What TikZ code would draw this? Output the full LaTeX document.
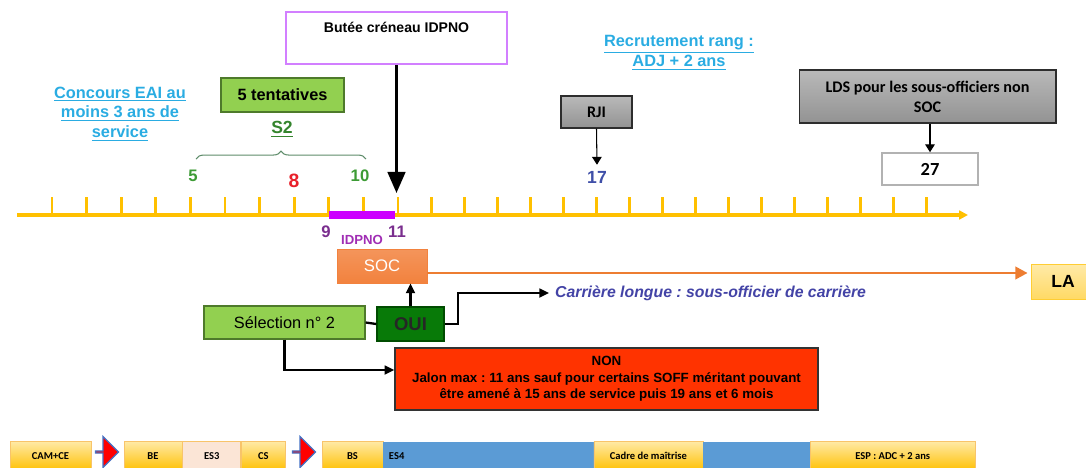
\documentclass[tikz,border=0pt]{standalone}
\usepackage{fontspec}
\setmainfont{Liberation Sans}
\newfontfamily\calibfont{Carlito}
\usetikzlibrary{arrows.meta, positioning, calc, shapes.arrows, decorations.pathreplacing}
\frenchspacing
\definecolor{tlgold}{HTML}{FFC000}
\definecolor{rowtop}{HTML}{FFEAA8}
\definecolor{rowborder}{HTML}{F8C46A}
\definecolor{linkblue}{HTML}{2AACE2}
\definecolor{lightgreen}{HTML}{92D050}
\definecolor{boxgreen}{HTML}{4E7A2B}
\definecolor{ouigreen}{HTML}{087A08}
\definecolor{numgreen}{HTML}{3D9B35}
\definecolor{numred}{HTML}{E8202A}
\definecolor{numblue}{HTML}{3F4FA8}
\definecolor{idpurple}{HTML}{7A2E8E}
\definecolor{idpurple2}{HTML}{A02DB4}
\definecolor{barmagenta}{HTML}{CC00FF}
\definecolor{buteeviolet}{HTML}{D27FFF}
\definecolor{bracegreen}{HTML}{5E8C6A}
\definecolor{socorange}{HTML}{F2823E}
\definecolor{lineorange}{HTML}{ED7D31}
\definecolor{nonred}{HTML}{FF3300}
\definecolor{carblue}{HTML}{4343A6}
\definecolor{esblue}{HTML}{5B9BD5}
\definecolor{espink}{HTML}{FBE5D6}
\definecolor{arrowblue}{HTML}{4472C4}
\tikzset{
    career/.style={x=0.02cm, y=-0.02cm, font=\bfseries\fontsize{9}{11}\selectfont},
    box/.style={draw, rectangle, align=center, inner sep=2pt},
    greenbox/.style={box, fill=lightgreen, draw=boxgreen, line width=0.8pt},
    graybox/.style={box, top color=gray!55, bottom color=gray!85, draw=gray!35!black, line width=0.6pt,
        font=\calibfont\bfseries\fontsize{9.2}{11.3}\selectfont},
    buteebox/.style={box, draw=buteeviolet, line width=0.9pt, fill=white, font=\bfseries\fontsize{8}{9.6}\selectfont},
    socbox/.style={box, top color=socorange!85!white, bottom color=socorange, draw=socorange, text=white, font=\fontsize{9.5}{11}\selectfont},
    labox/.style={box, top color=rowtop, bottom color=rowtop!60!tlgold, draw=tlgold!80, font=\bfseries\fontsize{10}{12}\selectfont},
    ouibox/.style={box, fill=ouigreen, draw=black!70!green, line width=0.8pt, text=black!85, font=\bfseries\fontsize{10.5}{12}\selectfont},
    nonbox/.style={box, fill=nonred, draw=black!80, line width=0.8pt, font=\bfseries\fontsize{7.6}{9.3}\selectfont},
    timeline/.style={draw=tlgold, line width=2pt},
    tickmark/.style={draw=tlgold, line width=1.7pt},
    idpnobar/.style={draw=barmagenta, line width=4.4pt},
    yearnum/.style={font=\bfseries\fontsize{9.5}{11}\selectfont},
    bluelink/.style={text=linkblue, align=center, font=\bfseries\fontsize{9.3}{11.3}\selectfont},
    s2brace/.style={draw=bracegreen, line width=0.6pt, decorate, decoration={brace, amplitude=4.5pt}},
    bigarrow/.style={-{Triangle[length=12pt,width=10pt]}, line width=1.7pt},
    flow/.style={-{Triangle[length=5.5pt,width=5pt]}, line width=1.3pt},
    thinarrow/.style={-{Triangle[length=4.5pt,width=5.5pt]}, line width=0.6pt},
    socline/.style={-{Triangle[length=7pt,width=7pt]}, draw=lineorange, line width=1.7pt},
    rowbox/.style={draw=rowborder, top color=rowtop, bottom color=tlgold, minimum height=0.6cm, inner sep=1pt,
        font=\calibfont\bfseries\fontsize{6}{7}\selectfont},
    bluebox/.style={fill=esblue, draw=esblue, minimum height=0.56cm, inner sep=1pt,
        font=\calibfont\bfseries\fontsize{6}{7}\selectfont},
    redarrow/.style={single arrow, fill=red, draw=arrowblue, line width=0.7pt, inner sep=0pt,
        minimum height=0.46cm, minimum width=0.62cm, single arrow head extend=0.17cm},
}
\begin{document}
\begin{tikzpicture}[career]
    \useasboundingbox (0,0) rectangle (1086,467);

    % time line, one tick per year of service
    \coordinate (tlstart) at (17,215);
    \coordinate (tlend)   at (968,215);
    \draw[timeline, -{Triangle[length=5pt,width=5pt]}] (tlstart) -- (tlend);
    \foreach \n in {1,...,27}{
        \pgfmathsetmacro\tx{\n<12 ? 52+(\n-1)*34.6 : 398+(\n-11)*33.06}
        \coordinate (tk\n) at (\tx,197);
        \draw[tickmark] (tk\n) -- (tk\n |- tlstart);
    }
    \draw[idpnobar] (tk9 |- tlstart) -- ($(tk11 |- tlstart)+(-3,0)$);

    % years
    \node[yearnum, text=numgreen]  (n5)    at (193,176) {5};
    \node[yearnum, text=numred, font=\bfseries\fontsize{11}{13}\selectfont] (n8) at (294,181) {8};
    \node[yearnum, text=numgreen]  (n10)   at (360,176) {10};
    \node[yearnum, text=idpurple]  (n9)    at (326,232) {9};
    \node[text=idpurple2, font=\bfseries\fontsize{7.5}{9}\selectfont] (idpno) at (362,240) {IDPNO};
    \node[yearnum, text=idpurple]  (n11)   at (397,232) {11};
    \node[yearnum, text=numblue, font=\bfseries\fontsize{10}{12}\selectfont] (n17) at (597,177) {17};

    % S2 window
    \coordinate (brL) at (196,159);
    \coordinate (brR) at (366,159);
    \draw[s2brace] (brL) -- (brR);
    \node[text=numgreen!85!black, font=\bfseries\fontsize{10}{12}\selectfont] (s2) at (282,129) {\underline{S2}};
    \node[greenbox, minimum width=2.46cm, minimum height=0.68cm, font=\bfseries\fontsize{9.3}{11}\selectfont] (tent) at (282.5,95) {5 tentatives};

    \node[bluelink] (concours) at (120,114) {\underline{Concours EAI au}\\\underline{moins 3 ans de}\\\underline{service}};
    \node[bluelink] (recrut)   at (679,53)  {\underline{Recrutement rang :}\\\underline{ADJ + 2 ans}};

    % butee
    \node[buteebox, minimum width=4.42cm, minimum height=1.04cm] (butee) at (396.5,38) {Butée créneau IDPNO\\\strut};
    \coordinate (buteeend) at (396.5,193);
    \draw[bigarrow] (butee.south) -- (buteeend);

    % RJI and LDS
    \node[graybox, minimum width=1.42cm, minimum height=0.64cm] (rji) at (596.5,112) {RJI};
    \draw[thinarrow] (rji.south) -- (n17.north);
    \node[graybox, minimum width=5.14cm, minimum height=1.06cm] (lds) at (927.5,96.5) {LDS pour les sous-officiers non\\SOC};
    \node[box, draw=gray!60, line width=0.9pt, minimum width=1.92cm, minimum height=0.64cm,
        font=\calibfont\bfseries\fontsize{10.5}{12}\selectfont] (y27) at (930,169) {27};
    \draw[thinarrow] (lds.south -| y27.north) -- (y27.north);

    % selection
    \node[socbox, minimum width=1.8cm, minimum height=0.68cm] (soc) at (382,266) {SOC};
    \node[labox, minimum width=1.28cm, minimum height=0.7cm] (la) at (1063,281.5) {LA};
    \draw[socline] ($(soc.east)+(0,7)$) -- ($(la.west)+(-3,-8.5)$);

    \node[greenbox, minimum width=3.22cm, minimum height=0.66cm, font=\fontsize{9.3}{11}\selectfont] (sel) at (284.5,322.5) {Sélection n° 2};
    \node[ouibox, minimum width=1.34cm, minimum height=0.68cm] (oui) at (410.5,324) {OUI};
    \node[text=carblue, anchor=west, font=\bfseries\itshape\fontsize{9}{11}\selectfont] (car) at (549,293) {Carrière longue : sous-officier de carrière};
    \node[nonbox, minimum width=8.46cm, minimum height=1.24cm] (non) at (606.5,379)
        {NON\\Jalon max : 11 ans sauf pour certains SOFF méritant pouvant\\être amené à 15 ans de service puis 19 ans et 6 mois};

    \draw[line width=1.3pt] (sel.east) -- (oui.west);
    \draw[flow] (oui.north) -- (oui.north |- soc.south);
    \draw[flow] (oui.east) -- ++(13,0) |- (car.west);
    \draw[flow] (sel.south) |- ($(non.west)+(0,-9)$);

    % training path
    \node[rowbox, minimum width=1.62cm] (cam) at (50.5,456) {CAM+CE};
    \node[redarrow] (arr1) at (106.5,452) {};
    \node[rowbox, minimum width=1.16cm] (be) at (153,456) {BE};
    \node[rowbox, minimum width=1.16cm, top color=espink, bottom color=espink, right=0pt of be] (es3) {ES3};
    \node[rowbox, minimum width=0.88cm, right=0pt of es3] (cs) {CS};
    \node[redarrow] (arr2) at (303.5,452) {};
    \node[rowbox, minimum width=1.22cm] (bs) at (352.5,456) {BS};
    \node[bluebox, text width=3.98cm, inner xsep=3pt, align=left, right=0pt of bs] (es4) {ES4};
    \node[rowbox, minimum width=2.18cm, right=0pt of es4] (cdm) {Cadre de maîtrise};
    \node[bluebox, minimum width=2.12cm, right=0pt of cdm] (es4b) {};
    \node[rowbox, minimum width=3.3cm, right=0pt of es4b] (esp) {ESP : ADC + 2 ans};
\end{tikzpicture}
\end{document}
